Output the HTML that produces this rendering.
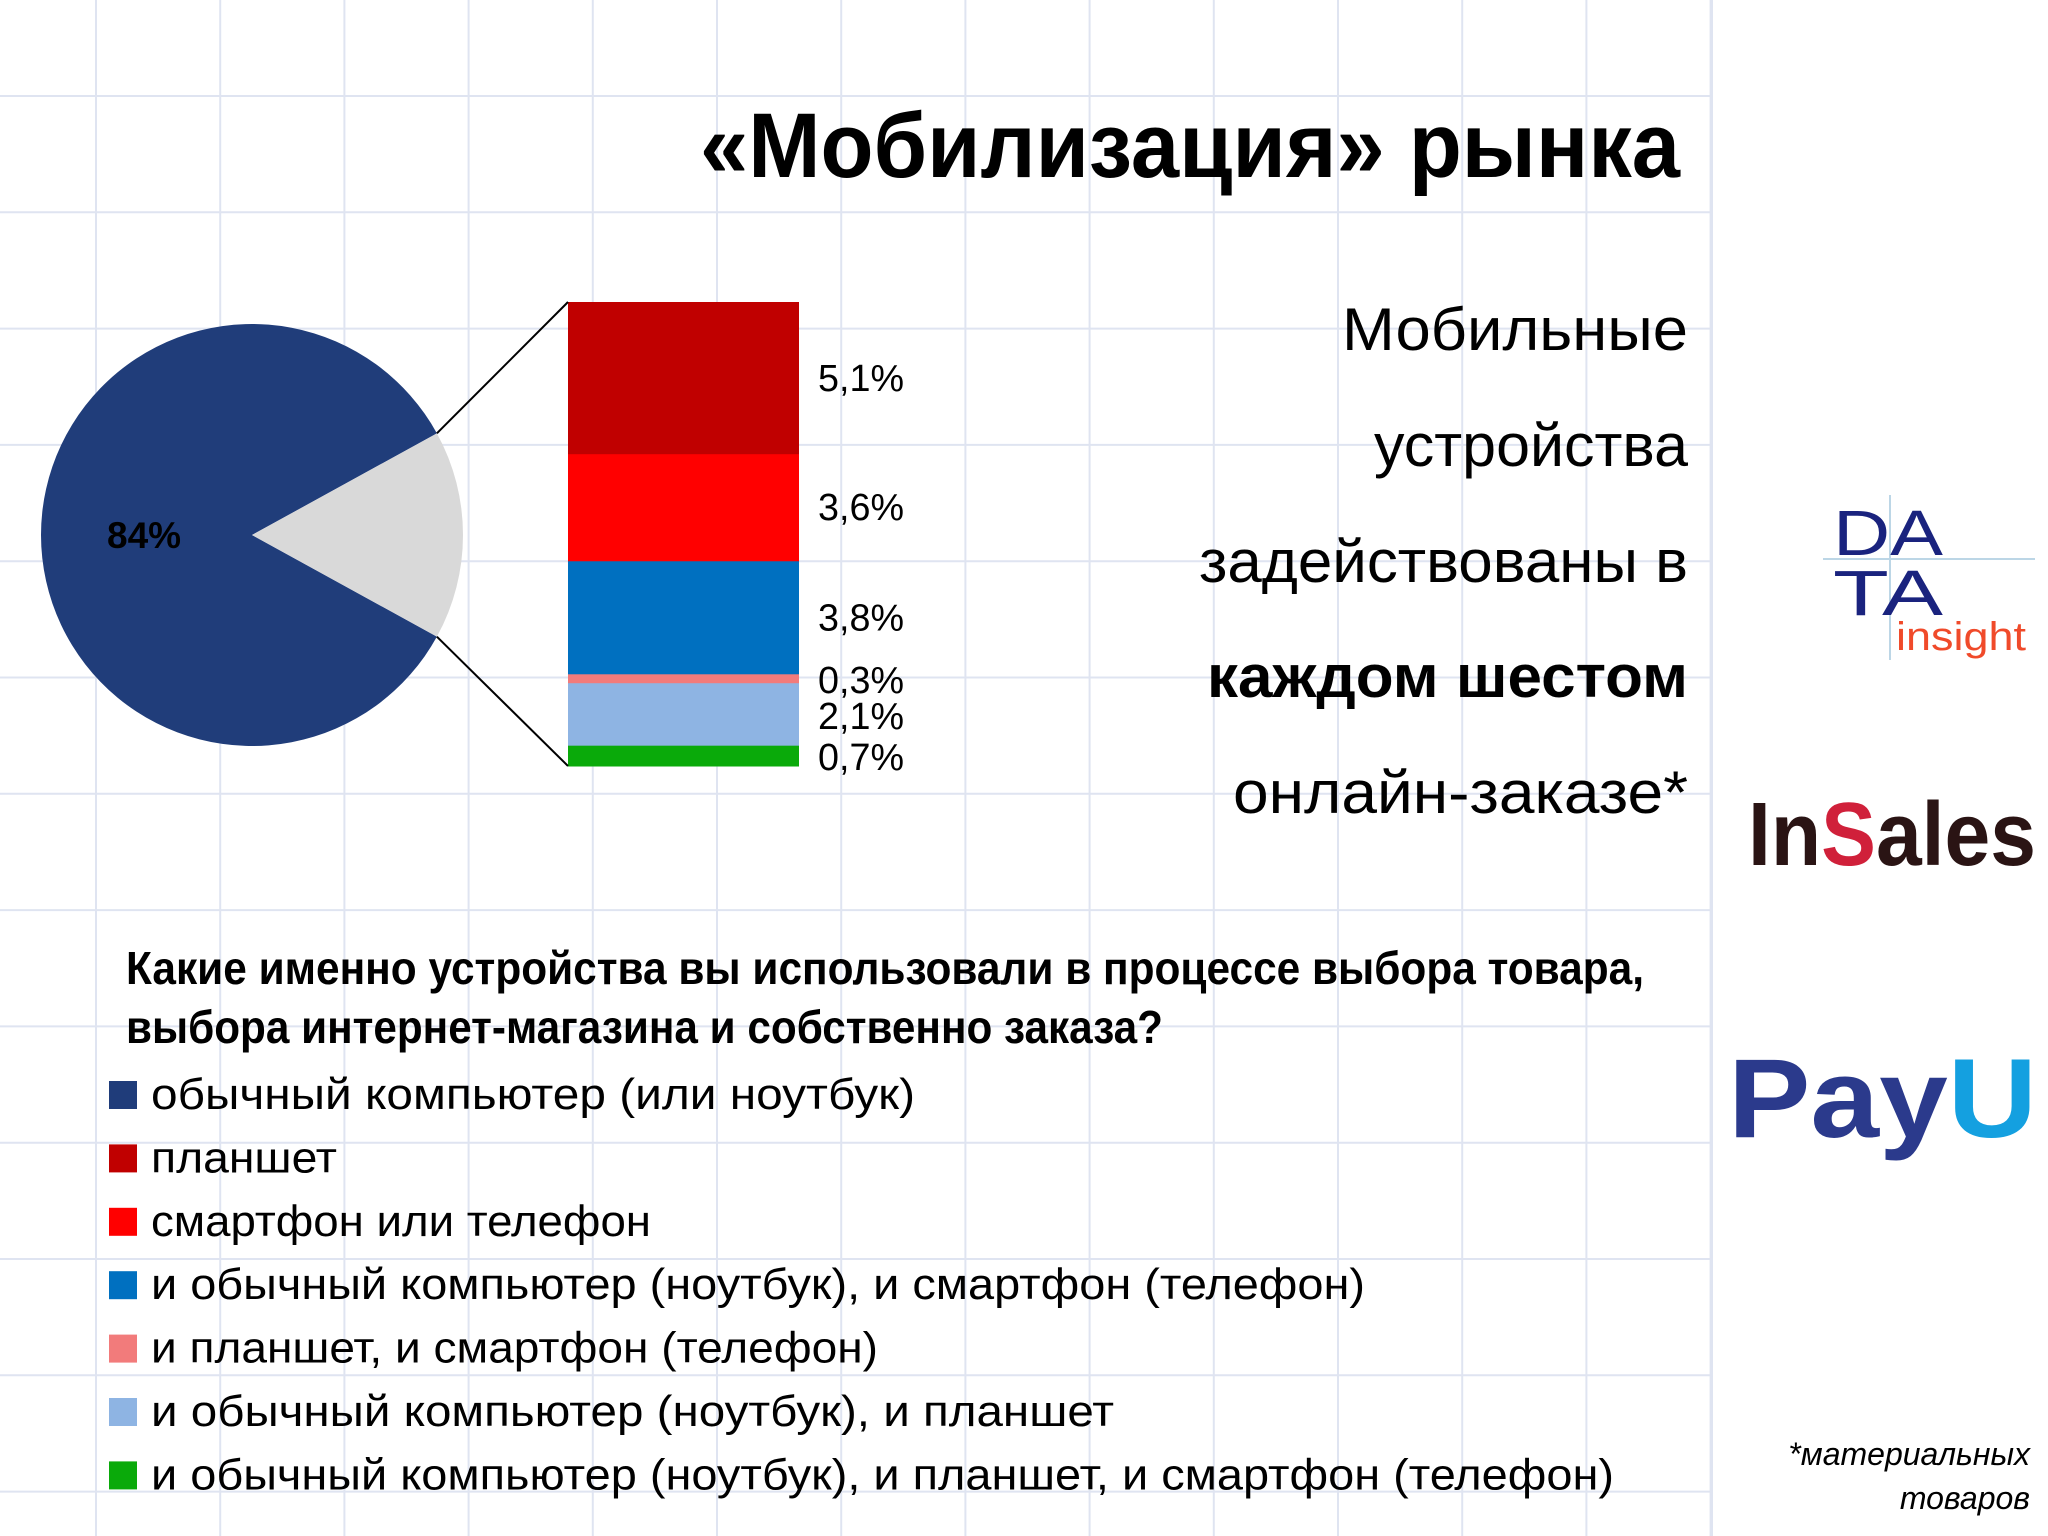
<!DOCTYPE html>
<html><head><meta charset="utf-8"><style>
html,body{margin:0;padding:0;background:#fff;}
svg{display:block;font-family:"Liberation Sans","DejaVu Sans",sans-serif;}
</style></head><body>
<svg id="chart" width="2048" height="1536" viewBox="0 0 2048 1536">
<g id="grid"></g>
<text x="1680" y="177" text-anchor="end" font-size="92" font-weight="bold" textLength="980" lengthAdjust="spacingAndGlyphs">«Мобилизация» рынка</text>
<g id="pie"></g>
<g id="bar"></g>
<g font-size="60" text-anchor="end">
<text x="1688" y="350" textLength="346" lengthAdjust="spacingAndGlyphs">Мобильные</text>
<text x="1688" y="466" textLength="314" lengthAdjust="spacingAndGlyphs">устройства</text>
<text x="1688" y="582" textLength="489" lengthAdjust="spacingAndGlyphs">задействованы в</text>
<text x="1688" y="697" font-weight="bold" textLength="481" lengthAdjust="spacingAndGlyphs">каждом шестом</text>
<text x="1688" y="813" textLength="455" lengthAdjust="spacingAndGlyphs">онлайн-заказе*</text>
</g>
<g font-size="46" font-weight="bold">
<text x="126" y="984" textLength="1518" lengthAdjust="spacingAndGlyphs">Какие именно устройства вы использовали в процессе выбора товара,</text>
<text x="126" y="1043" textLength="1037" lengthAdjust="spacingAndGlyphs">выбора интернет-магазина и собственно заказа?</text>
</g>
<g id="legend"></g>
<g font-size="32" font-style="italic" text-anchor="end">
<text x="2030" y="1465">*материальных</text>
<text x="2030" y="1509">товаров</text>
</g>
<g>
<line x1="1823" y1="559" x2="2035" y2="559" stroke="#bcd6e6" stroke-width="2"/>
<line x1="1890" y1="495" x2="1890" y2="660" stroke="#bcd6e6" stroke-width="2"/>
<text x="1833" y="555" font-size="64" fill="#1a237e" textLength="110" lengthAdjust="spacingAndGlyphs">DA</text>
<text x="1833" y="615" font-size="64" fill="#1a237e" textLength="110" lengthAdjust="spacingAndGlyphs">TA</text>
<text x="1896" y="650" font-size="40" fill="#f04a2a" textLength="130" lengthAdjust="spacingAndGlyphs">insight</text>
</g>
<g>
<text x="1748" y="865" font-size="90" font-weight="bold" fill="#2a1414" textLength="288" lengthAdjust="spacingAndGlyphs">In<tspan fill="#d0203a">S</tspan>ales</text>
</g>
<g>
<text x="1728" y="1137" font-size="112" font-weight="bold" fill="#2b3a8c" textLength="309" lengthAdjust="spacingAndGlyphs">Pay<tspan fill="#14a0e0">U</tspan></text>
</g>
</svg>
<script>
const pieLabels = ["84%", ""];
const pieValues = [84, 16];
const barLabels = ["0,7%", "2,1%", "0,3%", "3,8%", "3,6%", "5,1%"];
const barValues = [0.7, 2.1, 0.3, 3.8, 3.6, 5.1];
const barColors = ["#0aaa0a", "#8eb4e3", "#f27b7b", "#0070c0", "#ff0000", "#c00000"];
const legendLabels = ["обычный компьютер (или ноутбук)", "планшет", "смартфон или телефон", "и обычный компьютер (ноутбук), и смартфон (телефон)", "и планшет, и смартфон (телефон)", "и обычный компьютер (ноутбук), и планшет", "и обычный компьютер (ноутбук), и планшет, и смартфон (телефон)"];
const legendColors = ["#1f3c7a", "#c00000", "#ff0000", "#0070c0", "#f27b7b", "#8eb4e3", "#0aaa0a"];
const legendWidths = [764, 186, 500, 1214, 727, 963, 1463];

const NS = "http://www.w3.org/2000/svg";
function mk(tag, attrs, parent){const e=document.createElementNS(NS,tag);for(const k in attrs)e.setAttribute(k,attrs[k]);parent.appendChild(e);return e;}

const grid=document.getElementById('grid');
for(let x=96;x<=1712;x+=124.2){const l=mk('line',{x1:x,y1:0,x2:x,y2:1536,stroke:'#dfe4f1','stroke-width':2},grid);

}
mk('line',{x1:1712,y1:0,x2:1712,y2:1536,stroke:'#dfe4f1','stroke-width':2},grid);
for(let y=96;y<1536;y+=116.3){const l=mk('line',{x1:0,y1:y,x2:1712,y2:y,stroke:'#dfe4f1','stroke-width':2},grid);

}

const pie=document.getElementById('pie');
const cx=252, cy=535, r=211;
const total=pieValues.reduce((a,b)=>a+b,0);
const otherAngle=pieValues[1]/total*2*Math.PI;
const a0=-otherAngle/2, a1=otherAngle/2;
const p1=[cx+r*Math.cos(a0), cy+r*Math.sin(a0)], p2=[cx+r*Math.cos(a1), cy+r*Math.sin(a1)];
const big=mk('path',{d:`M${cx},${cy} L${p2[0]},${p2[1]} A${r},${r} 0 1 1 ${p1[0]},${p1[1]} Z`,fill:'#203d7a'},pie);


const small=mk('path',{d:`M${cx},${cy} L${p1[0]},${p1[1]} A${r},${r} 0 0 1 ${p2[0]},${p2[1]} Z`,fill:'#d9d9d9'},pie);


const pl=mk('text',{x:107,y:548,'font-size':37,'font-weight':'bold'},pie);pl.textContent=pieLabels[0];



const bar=document.getElementById('bar');
const bx=568, bw=231, bBottom=766, bTop=302;
const bsum=barValues.reduce((a,b)=>a+b,0);
const k=(bBottom-bTop)/bsum;
let y=bBottom;
const labelY=[757,716,680,620,511,382];
barValues.forEach((v,i)=>{
  const h=v*k; y-=h;
  const rc=mk('rect',{x:bx,y:y,width:bw,height:h+0.5,fill:barColors[i]},bar);
  
  
  const ty = (i<3)? labelY[i] : y+h/2;
  const t=mk('text',{x:818,y:ty+13,'font-size':38,textLength:86,lengthAdjust:'spacingAndGlyphs'},bar);t.textContent=barLabels[i];
  
  
});
const c1=mk('line',{x1:p1[0],y1:p1[1],x2:bx,y2:bTop,stroke:'#000','stroke-width':2},bar);


const c2=mk('line',{x1:p2[0],y1:p2[1],x2:bx,y2:bBottom,stroke:'#000','stroke-width':2},bar);



const lg=document.getElementById('legend');
legendLabels.forEach((lab,i)=>{
  const cyy=1095+i*63.4;
  const s=mk('rect',{x:109,y:cyy-14,width:28,height:28,fill:legendColors[i]},lg);
  
  
  const t=mk('text',{x:151,y:cyy+14,'font-size':44,textLength:legendWidths[i],lengthAdjust:'spacingAndGlyphs'},lg);
  t.textContent=lab;
  
  
});
</script>
</body></html>
